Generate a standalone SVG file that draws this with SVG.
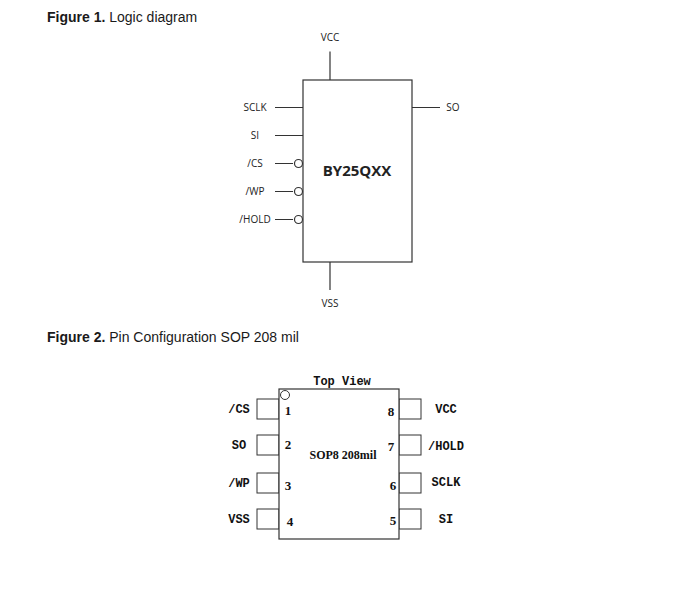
<svg xmlns="http://www.w3.org/2000/svg" width="693" height="605" viewBox="0 0 693 605">
<style>
.cap{font:14px "Liberation Sans",Arial,sans-serif;fill:#1a1a1a}
.l{font:10px "Open Sans","Noto Sans",sans-serif;fill:#222;text-anchor:middle}
.t{font:700 15px "Open Sans","Noto Sans",sans-serif;fill:#222;text-anchor:middle}
.m{font:700 12px "Liberation Mono","DejaVu Sans Mono",monospace;fill:#111;text-anchor:middle}
.n{font:700 13px "Liberation Serif",serif;fill:#111;text-anchor:middle}
.s{fill:#fff;stroke:#333;stroke-width:1.2}
.p{fill:#fff;stroke:#333;stroke-width:1}
.w{fill:none;stroke:#333;stroke-width:1.2}
</style>
<rect width="693" height="605" fill="#fff"/>
<text class="cap" x="47" y="21.500"><tspan font-weight="700">Figure 1.</tspan> Logic diagram</text>
<text class="cap" x="47" y="341.500"><tspan font-weight="700">Figure 2.</tspan> Pin Configuration SOP 208 mil</text>
<g id="connectors">
<path class="w" d="M330 51.500V80M275 107.500H303M275 135.500H303M275 163.500H293M275 191.500H293M275 219.500H293M412 107.500H440M330 262V290"/>
</g>
<g id="logic-chip">
<rect class="s" x="303" y="80" width="109" height="182"/>
<text class="t" x="357" y="176">BY25QXX</text>
<circle class="s" cx="298.500" cy="163.500" r="4"/>
<circle class="s" cx="298.500" cy="191.500" r="4"/>
<circle class="s" cx="298.500" cy="219.500" r="4"/>
</g>
<g id="logic-labels">
<text class="l" x="255" y="111">SCLK</text>
<text class="l" x="330" y="41">VCC</text>
<text class="l" x="255" y="139">SI</text>
<text class="l" x="255" y="167">/CS</text>
<text class="l" x="255" y="195">/WP</text>
<text class="l" x="255" y="223">/HOLD</text>
<text class="l" x="453" y="111">SO</text>
<text class="l" x="330" y="307">VSS</text>
</g>
<g id="sop8-pins">
<rect class="p" x="257" y="399" width="22" height="20"/>
<rect class="p" x="257" y="435" width="22" height="20"/>
<rect class="p" x="257" y="473" width="22" height="20"/>
<rect class="p" x="257" y="509" width="22" height="20"/>
<rect class="p" x="399" y="399" width="22" height="20"/>
<rect class="p" x="399" y="435" width="22" height="20"/>
<rect class="p" x="399" y="473" width="22" height="20"/>
<rect class="p" x="399" y="509" width="22" height="20"/>
</g>
<g id="sop8-chip">
<rect class="s" x="279" y="389" width="120" height="150"/>
<circle class="p" cx="285" cy="395" r="4.500"/>
<text class="m" x="342" y="385">Top View</text>
<text class="n" x="343" y="459" style="font-size:12px">SOP8 208mil</text>
<text class="n" x="288" y="415">1</text>
<text class="n" x="288" y="449">2</text>
<text class="n" x="288" y="490">3</text>
<text class="n" x="290" y="526">4</text>
<text class="n" x="391" y="416">8</text>
<text class="n" x="391" y="451">7</text>
<text class="n" x="393" y="490">6</text>
<text class="n" x="393" y="525">5</text>
</g>
<g id="sop8-labels">
<text class="m" x="239" y="413">/CS</text>
<text class="m" x="239" y="449">SO</text>
<text class="m" x="239" y="487">/WP</text>
<text class="m" x="239" y="523">VSS</text>
<text class="m" x="446" y="413">VCC</text>
<text class="m" x="446" y="450">/HOLD</text>
<text class="m" x="446" y="486">SCLK</text>
<text class="m" x="446" y="523">SI</text>
</g>
</svg>
